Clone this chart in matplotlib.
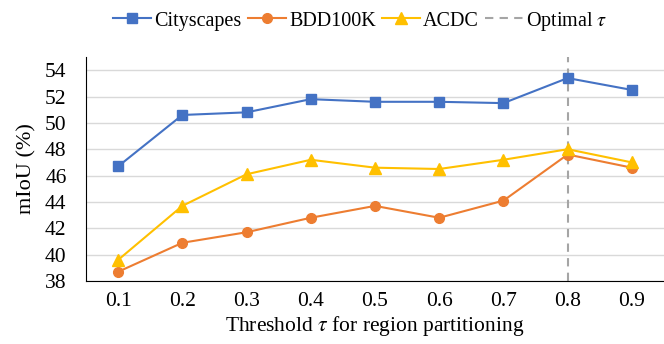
import matplotlib
matplotlib.use("Agg")
import matplotlib.pyplot as plt

plt.rcParams['font.family'] = ['Liberation Serif', 'DejaVu Serif']
plt.rcParams['mathtext.fontset'] = 'stix'

# 데이터
thresholds = ['0.1', '0.2', '0.3', '0.4', '0.5', '0.6', '0.7', '0.8', '0.9']
cityscapes = [46.7, 50.6, 50.8, 51.8, 51.6, 51.6, 51.5, 53.4, 52.5]
bdd100k = [38.7, 40.9, 41.7, 42.8, 43.7, 42.8, 44.1, 47.6, 46.6]
acdc = [39.6, 43.7, 46.1, 47.2, 46.6, 46.5, 47.2, 48.0, 47.0]
optimal = '0.8'
yticks = [38, 40, 42, 44, 46, 48, 50, 52, 54]

fig = plt.figure(figsize=(6.64, 3.44), dpi=100)
ax = fig.add_axes([86 / 664, 1 - 281 / 344, 578 / 664, 224 / 344])

x = list(range(len(thresholds)))
ax.plot(x, cityscapes, color='#4472C4', marker='s', markersize=7, lw=1.5, label='Cityscapes', zorder=3)
ax.plot(x, bdd100k, color='#ED7D31', marker='o', markersize=7, lw=1.5, label='BDD100K', zorder=3)
ax.plot(x, acdc, color='#FFC000', marker='^', markersize=8, lw=1.5, label='ACDC', zorder=4)
ax.axvline(thresholds.index(optimal), color='#A5A5A5', ls=(0, (4, 3)), lw=1.5, label=r'Optimal $\tau$', zorder=2)

ax.set_xlim(-0.5, len(thresholds) - 0.5)
ax.set_ylim(38, 55)
ax.set_xticks(x)
ax.set_xticklabels(thresholds)
ax.set_yticks(yticks)
ax.yaxis.grid(True, color='#D9D9D9', lw=1)
ax.set_axisbelow(True)
ax.tick_params(length=0, labelsize=15.5)
ax.tick_params(axis='y', pad=14)
ax.tick_params(axis='x', pad=8)

for s in ['top', 'right']:
    ax.spines[s].set_visible(False)
ax.spines['left'].set_color('black')
ax.spines['bottom'].set_color('black')

ax.set_ylabel('mIoU (%)', fontsize=16, labelpad=6)
ax.set_xlabel(r'Threshold $\tau$ for region partitioning', fontsize=15.5, labelpad=2)

fig.legend(loc='upper center', bbox_to_anchor=(0.543, 1.025), ncol=4, frameon=False,
           fontsize=14.5, handlelength=1.9, handletextpad=0.15, columnspacing=0.3)

fig.savefig('out.png', dpi=100)
